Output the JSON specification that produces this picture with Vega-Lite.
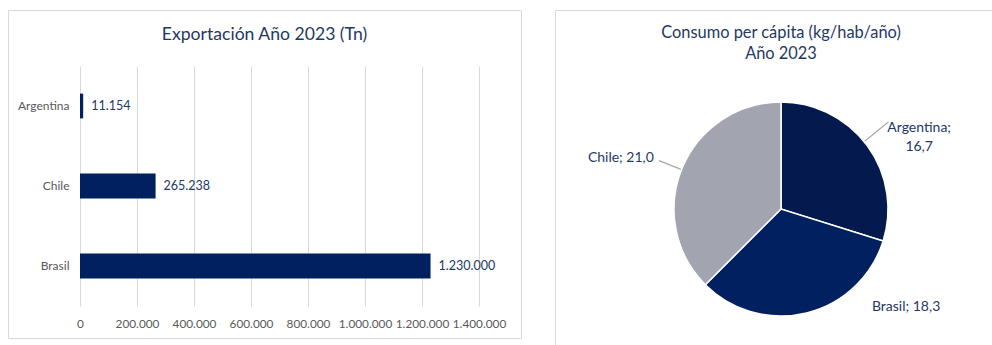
{
  "$schema": "https://vega.github.io/schema/vega-lite/v6.json",
  "padding": {"left": 7, "top": 9, "right": 0, "bottom": 0},
  "background": "white",
  "config": {
    "locale": {"number": {"decimal": ",", "thousands": ".", "grouping": [3], "currency": ["", " €"]}},
    "font": "Lato",
    "view": {"stroke": "#D9D9D9", "strokeWidth": 1},
    "concat": {"spacing": 32},
    "title": {"font": "Lato", "fontWeight": "normal", "color": "#1F3864"}
  },
  "datasets": {
    "exportacion": [
      {"pais": "Argentina", "toneladas": 11154},
      {"pais": "Chile", "toneladas": 265238},
      {"pais": "Brasil", "toneladas": 1230000}
    ],
    "consumo": [
      {"pais": "Argentina", "kg": 16.7, "etiqueta": "Argentina;\n16,7"},
      {"pais": "Brasil", "kg": 18.3, "etiqueta": "Brasil; 18,3"},
      {"pais": "Chile", "kg": 21.0, "etiqueta": "Chile; 21,0"}
    ]
  },
  "hconcat": [
    {
      "width": 513,
      "height": 328,
      "title": {"text": "Exportación Año 2023 (Tn)", "fontSize": 17.6, "anchor": "middle", "frame": "group", "offset": -34},
      "data": {"name": "exportacion"},
      "encoding": {
        "y": {
          "field": "pais", "type": "nominal", "sort": ["Argentina", "Chile", "Brasil"],
          "scale": {"range": [56, 296], "paddingInner": 0, "paddingOuter": 0},
          "axis": {"title": null, "domain": false, "ticks": false, "tickSize": 0, "labelPadding": 4, "offset": -65, "labelColor": "#595959", "labelFontSize": 12, "grid": false}
        }
      },
      "layer": [
        {
          "mark": {"type": "bar", "height": {"band": 0.31}, "color": "#002060"},
          "encoding": {
            "x": {
              "field": "toneladas", "type": "quantitative",
              "scale": {"domain": [0, 1400000], "range": [72, 471], "nice": false},
              "axis": {"orient": "top", "grid": true, "gridColor": "#D9D9D9", "labels": false, "ticks": false, "domain": false, "title": null,
                       "values": [0, 200000, 400000, 600000, 800000, 1000000, 1200000, 1400000]}
            }
          }
        },
        {
          "mark": {"type": "text", "align": "left", "baseline": "middle", "dx": 8, "fontSize": 12.5, "color": "#203864"},
          "encoding": {
            "x": {
              "field": "toneladas", "type": "quantitative",
              "scale": {"domain": [0, 1400000], "range": [72, 471], "nice": false},
              "axis": {"orient": "bottom", "grid": false, "domain": false, "ticks": false, "tickSize": 0, "labelPadding": 2, "offset": -22,
                       "format": ",.0f", "labelColor": "#595959", "labelFontSize": 11.8, "title": null, "labelFlush": false, "labelOverlap": false,
                       "values": [0, 200000, 400000, 600000, 800000, 1000000, 1200000, 1400000]}
            },
            "text": {"field": "toneladas", "type": "quantitative", "format": ",.0f"}
          }
        }
      ],
      "resolve": {"axis": {"x": "independent"}}
    },
    {
      "width": 452,
      "height": 398,
      "view": {"stroke": "#D9D9D9", "strokeWidth": 1, "fill": "white"},
      "title": {"text": ["Consumo per cápita (kg/hab/año)", "Año 2023"], "fontSize": 16.4, "lineHeight": 21, "anchor": "middle", "frame": "group", "offset": -52},
      "data": {"name": "consumo"},
      "layer": [
        {
          "mark": {"type": "arc", "radius": 107, "stroke": "white", "strokeWidth": 1.5},
          "encoding": {
            "theta": {"field": "kg", "type": "quantitative", "stack": true},
            "color": {"field": "pais", "type": "nominal", "legend": null,
                      "scale": {"domain": ["Argentina", "Brasil", "Chile"], "range": ["#04194E", "#002060", "#A2A4AF"]}}
          }
        },
        {
          "transform": [{"filter": "datum.pais == 'Argentina'"}],
          "mark": {"type": "arc", "theta": 0.888, "theta2": 0.892, "radius": 138, "radius2": 108, "stroke": "#A6A6A6", "strokeWidth": 0.8, "fill": "#A6A6A6"},
          "encoding": {}
        },
        {
          "transform": [{"filter": "datum.pais == 'Chile'"}],
          "mark": {"type": "arc", "theta": 5.088, "theta2": 5.092, "radius": 131, "radius2": 108, "stroke": "#A6A6A6", "strokeWidth": 0.8, "fill": "#A6A6A6"},
          "encoding": {}
        },
        {
          "transform": [{"filter": "datum.pais == 'Argentina'"}],
          "mark": {"type": "text", "theta": 1.042, "radius": 160, "lineBreak": "\n", "lineHeight": 19, "fontSize": 14, "color": "#1F3864", "align": "center", "baseline": "middle"},
          "encoding": {"text": {"field": "etiqueta", "type": "nominal"}}
        },
        {
          "transform": [{"filter": "datum.pais == 'Brasil'"}],
          "mark": {"type": "text", "theta": 2.236, "radius": 159, "fontSize": 14, "color": "#1F3864", "align": "center", "baseline": "middle"},
          "encoding": {"text": {"field": "etiqueta", "type": "nominal"}}
        },
        {
          "transform": [{"filter": "datum.pais == 'Chile'"}],
          "mark": {"type": "text", "theta": 5.02, "radius": 168, "fontSize": 14, "color": "#1F3864", "align": "center", "baseline": "middle"},
          "encoding": {"text": {"field": "etiqueta", "type": "nominal"}}
        }
      ]
    }
  ]
}
